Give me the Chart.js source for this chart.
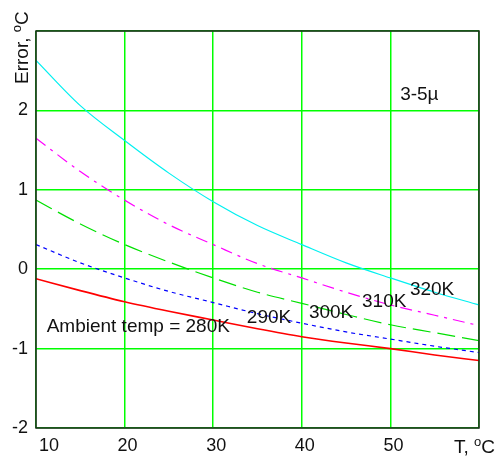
<!DOCTYPE html>
<html>
<head>
<meta charset="utf-8">
<script src="https://cdn.jsdelivr.net/npm/chart.js@4/dist/chart.umd.min.js"></script>
<style>
  html, body { margin: 0; padding: 0; background: #fff; }
  #wrap { width: 500px; height: 456px; position: relative; }
</style>
</head>
<body>
<div id="wrap"><canvas id="errChart"></canvas></div>
<script>
// sensor temperature, degC
const temps = [10, 15, 20, 25, 30, 35, 40, 45, 50, 55, 60];

// error in degC for each ambient temperature
const err320 = [2.63, 2.06, 1.62, 1.21, 0.85, 0.55, 0.31, 0.08, -0.11, -0.29, -0.45];
const err310 = [1.65, 1.23, 0.87, 0.56, 0.31, 0.07, -0.11, -0.29, -0.45, -0.58, -0.71];
const err300 = [0.87, 0.57, 0.31, 0.09, -0.11, -0.29, -0.43, -0.57, -0.70, -0.80, -0.90];
const err290 = [0.31, 0.08, -0.11, -0.28, -0.42, -0.56, -0.68, -0.79, -0.88, -0.97, -1.05];
const err280 = [-0.12, -0.27, -0.41, -0.53, -0.64, -0.75, -0.85, -0.93, -1.00, -1.08, -1.15];

const xTicks = [10, 20, 30, 40, 50, 60];
const yTicks = [-2, -1, 0, 1, 2, 3];

// curve labels placed in data units
const curveLabels = [
  { text: "Ambient temp = 280K", x: 11.2, y: -0.79 },
  { text: "290K", x: 33.8, y: -0.68 },
  { text: "300K", x: 40.8, y: -0.61 },
  { text: "310K", x: 46.8, y: -0.48 },
  { text: "320K", x: 52.2, y: -0.33 },
  { text: "3-5\u00b5", x: 51.1, y: 2.13 },
];

const FONT = "'Liberation Sans', Arial, sans-serif";

const toPoints = (vals) => temps.map((t, i) => ({ x: t, y: vals[i] }));

const series = (label, vals, color, dash, width) => ({
  label: label,
  data: toPoints(vals),
  borderColor: color,
  borderWidth: width || 1.2,
  borderDash: dash,
  pointRadius: 0,
  cubicInterpolationMode: "monotone",
  fill: false,
});

// frame, titles and curve labels
const decorations = {
  id: "decorations",
  afterDatasetsDraw(chart) {
    const { ctx, chartArea, scales } = chart;
    ctx.save();
    ctx.strokeStyle = "#222";
    ctx.lineWidth = 1.5;
    ctx.strokeRect(chartArea.left, chartArea.top,
      chartArea.right - chartArea.left, chartArea.bottom - chartArea.top);

    ctx.fillStyle = "#111";
    ctx.textBaseline = "alphabetic";
    ctx.textAlign = "left";
    ctx.font = "19px " + FONT;
    curveLabels.forEach((l) => {
      ctx.fillText(l.text, scales.x.getPixelForValue(l.x), scales.y.getPixelForValue(l.y));
    });

    // x axis title: T, oC
    let px = 454, py = 453;
    ctx.font = "19px " + FONT;
    ctx.fillText("T, ", px, py);
    px += ctx.measureText("T, ").width;
    ctx.font = "13px " + FONT;
    ctx.fillText("o", px, py - 7);
    px += ctx.measureText("o").width;
    ctx.font = "19px " + FONT;
    ctx.fillText("C", px, py);

    // y axis title, rotated
    ctx.translate(28, 84);
    ctx.rotate(-Math.PI / 2);
    ctx.font = "19px " + FONT;
    let tx = 0;
    ctx.fillText("Error, ", tx, 0);
    tx += ctx.measureText("Error, ").width;
    ctx.font = "13px " + FONT;
    ctx.fillText("o", tx, -7);
    tx += ctx.measureText("o").width;
    ctx.font = "19px " + FONT;
    ctx.fillText("C", tx, 0);
    ctx.restore();
  },
};

new Chart(document.getElementById("errChart"), {
  type: "line",
  data: {
    datasets: [
      series("320K", err320, "#00f0f0", []),
      series("310K", err310, "#ff00ff", [12, 6, 3, 6]),
      series("300K", err300, "#00e000", [18, 7]),
      series("290K", err290, "#0000ff", [4, 4]),
      series("280K", err280, "#ff0000", [], 1.6),
    ],
  },
  options: {
    responsive: true,
    maintainAspectRatio: false,
    animation: false,
    events: [],
    layout: { padding: { left: 0, top: 31, right: 21, bottom: 0 } },
    plugins: {
      legend: { display: false },
      tooltip: { enabled: false },
    },
    scales: {
      x: {
        type: "linear",
        min: 10,
        max: 60,
        afterBuildTicks: (scale) => { scale.ticks = xTicks.map((v) => ({ value: v })); },
        afterFit: (scale) => { scale.height = 28; },
        border: { display: false },
        grid: { color: "#00ff00", lineWidth: 1.5, drawTicks: false },
        ticks: {
          align: "inner",
          labelOffset: 3,
          padding: 7,
          color: "#111",
          font: { family: FONT, size: 18 },
          callback: (v) => (v === 60 ? "" : String(v)),
        },
      },
      y: {
        min: -2,
        max: 3,
        afterBuildTicks: (scale) => { scale.ticks = yTicks.map((v) => ({ value: v })); },
        afterFit: (scale) => { scale.width = 36; },
        border: { display: false },
        grid: { color: "#00ff00", lineWidth: 1.5, drawTicks: false },
        ticks: {
          padding: 8,
          color: "#111",
          font: { family: FONT, size: 18 },
          callback: (v) => (v === 3 ? "" : String(v)),
        },
      },
    },
  },
  plugins: [decorations],
});
</script>
</body>
</html>
